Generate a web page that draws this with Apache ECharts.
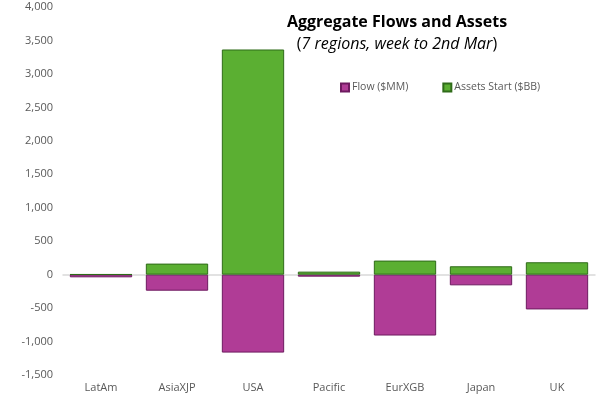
<!DOCTYPE html>
<html>
<head>
<meta charset="utf-8">
<script src="https://cdn.jsdelivr.net/npm/echarts@6/dist/echarts.min.js"></script>
<style>
  html, body { margin: 0; padding: 0; background: #fff; }
  #chart { width: 600px; height: 399px; }
</style>
</head>
<body>
<div id="chart"></div>
<script>
var regions = ['LatAm', 'AsiaXJP', 'USA', 'Pacific', 'EurXGB', 'Japan', 'UK'];
var flowMM = [-40, -240, -1165, -30, -910, -160, -520];
var assetsBB = [5, 165, 3365, 45, 210, 125, 185];
var yTicks = { min: -1500, max: 4000, step: 500 };

var chart = echarts.init(document.getElementById('chart'));
var font = '"Open Sans", "Liberation Sans", sans-serif';

chart.setOption({
    animation: false,
    textStyle: { fontFamily: font },
    title: {
        text: '{b|Aggregate Flows and Assets}\n{n|(}{i|7 regions, week to 2nd Mar}{n|)}',
        left: 392,
        top: 6,
        textAlign: 'center',
        textStyle: {
            fontWeight: 'normal',
            rich: {
                b: { fontSize: 16, fontWeight: 'bold', color: '#000', fontFamily: font, lineHeight: 22 },
                n: { fontSize: 16, fontWeight: 'normal', color: '#000', fontFamily: font, lineHeight: 22 },
                i: { fontSize: 16, fontWeight: 'normal', fontStyle: 'italic', color: '#000', fontFamily: font, lineHeight: 22 }
            }
        }
    },
    legend: {
        data: ['Flow ($MM)', 'Assets Start ($BB)'],
        left: 335,
        top: 77,
        itemWidth: 8,
        itemHeight: 8,
        itemGap: 34,
        icon: 'rect',
        textStyle: { color: '#595959', fontSize: 10.5, fontFamily: font, padding: [0, 0, 0, -2] }
    },
    grid: { left: 63, right: 5, top: 7, bottom: 24 },
    xAxis: {
        type: 'category',
        data: regions,
        axisLine: { show: true, onZero: true, lineStyle: { color: '#D9D9D9', width: 1.5 } },
        axisTick: { show: false },
        axisLabel: { color: '#595959', fontSize: 11, fontFamily: font, margin: 7 }
    },
    yAxis: {
        type: 'value',
        min: yTicks.min,
        max: yTicks.max,
        interval: yTicks.step,
        splitLine: { show: false },
        axisLine: { show: false },
        axisTick: { show: false },
        axisLabel: {
            color: '#595959', fontSize: 11, fontFamily: font, margin: 10,
            formatter: function (v) { return v.toLocaleString('en-US'); }
        }
    },
    series: [
        {
            name: 'Flow ($MM)',
            type: 'bar',
            stack: 'total',
            barCategoryGap: '18%',
            data: flowMM,
            itemStyle: { color: '#B03C96', borderColor: '#6E1A60', borderWidth: 1 }
        },
        {
            name: 'Assets Start ($BB)',
            type: 'bar',
            stack: 'total',
            barCategoryGap: '18%',
            data: assetsBB,
            itemStyle: { color: '#5BAF32', borderColor: '#2F6B19', borderWidth: 1 }
        }
    ]
});
</script>
</body>
</html>
